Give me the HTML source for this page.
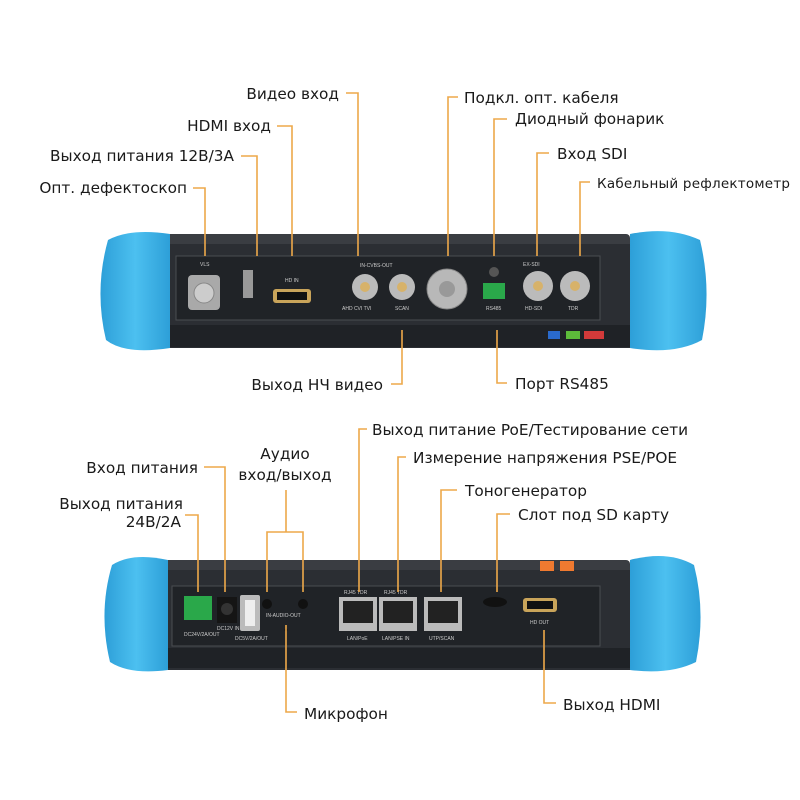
<!DOCTYPE html>
<html><head><meta charset="utf-8"><style>
html,body{margin:0;padding:0;background:#fff}
svg{display:block}
text{font-family:"DejaVu Sans","Liberation Sans",sans-serif;font-size:15.3px;fill:#1a1a1a}
.l{stroke:#eda84a;stroke-width:1.6;fill:none}
.s{font-size:5px;fill:#ccc;font-family:"Liberation Sans",sans-serif}
</style></head><body>
<svg width="800" height="800" viewBox="0 0 800 800">
<defs>
<linearGradient id="b" x1="0" y1="0" x2="1" y2="0"><stop offset="0" stop-color="#2d9fd8"/><stop offset=".5" stop-color="#4cc0f0"/><stop offset="1" stop-color="#2d9fd8"/></linearGradient>
</defs>
<rect x="160" y="234" width="470" height="16" rx="4" fill="#3a3d42"/>
<rect x="140" y="244" width="525" height="104" rx="8" fill="#2b2e33"/>
<rect x="140" y="325" width="525" height="22" rx="6" fill="#1f2226"/>
<rect x="176" y="256" width="424" height="64" fill="#202327" stroke="#4a4d52" stroke-width="1"/>
<path d="M170 234 Q130 228 108 240 Q94 290 106 340 Q125 355 170 348Z" fill="url(#b)"/>
<path d="M630 234 Q670 226 700 240 Q712 290 702 340 Q675 355 630 348Z" fill="url(#b)"/>
<rect x="548" y="331" width="12" height="8" fill="#2a6acb"/><rect x="566" y="331" width="14" height="8" fill="#5dbb3a"/><rect x="584" y="331" width="20" height="8" fill="#d23a3a"/>
<rect x="188" y="275" width="32" height="35" rx="4" fill="#a9a9a9"/><circle cx="204" cy="293" r="10" fill="#ccc" stroke="#888"/>
<rect x="243" y="270" width="10" height="28" fill="#999"/>
<rect x="273" y="289" width="38" height="14" rx="3" fill="#c9a45a"/><rect x="277" y="292" width="30" height="8" fill="#111"/>
<circle cx="365" cy="287" r="13" fill="#bbb"/><circle cx="365" cy="287" r="5" fill="#d7b26a"/>
<circle cx="402" cy="287" r="13" fill="#bbb"/><circle cx="402" cy="287" r="5" fill="#d7b26a"/>
<circle cx="447" cy="289" r="20" fill="#b8b8b8" stroke="#888"/><circle cx="447" cy="289" r="8" fill="#999"/>
<circle cx="494" cy="272" r="5" fill="#555"/>
<rect x="483" y="283" width="22" height="16" fill="#2aa84a"/>
<circle cx="538" cy="286" r="15" fill="#bbb"/><circle cx="538" cy="286" r="5" fill="#d7b26a"/>
<circle cx="575" cy="286" r="15" fill="#bbb"/><circle cx="575" cy="286" r="5" fill="#d7b26a"/>
<text class="s" x="200" y="266">VLS</text><text class="s" x="285" y="282">HD IN</text><text class="s" x="360" y="267">IN-CVBS-OUT</text>
<text class="s" x="342" y="310">AHD CVI TVI</text><text class="s" x="395" y="310">SCAN</text><text class="s" x="486" y="310">RS485</text>
<text class="s" x="523" y="266">EX-SDI</text><text class="s" x="525" y="310">HD-SDI</text><text class="s" x="568" y="310">TDR</text>
<rect x="160" y="560" width="470" height="16" rx="4" fill="#3a3d42"/>
<rect x="148" y="570" width="505" height="100" rx="8" fill="#2b2e33"/>
<rect x="148" y="648" width="505" height="20" rx="6" fill="#1f2226"/>
<rect x="172" y="586" width="428" height="60" fill="#202327" stroke="#4a4d52" stroke-width="1"/>
<rect x="540" y="561" width="14" height="10" fill="#f07a30"/><rect x="560" y="561" width="14" height="10" fill="#f07a30"/>
<path d="M168 560 Q132 552 112 565 Q98 612 110 662 Q130 675 168 670Z" fill="url(#b)"/>
<path d="M630 560 Q668 550 694 565 Q706 612 696 662 Q670 675 630 670Z" fill="url(#b)"/>
<rect x="184" y="596" width="28" height="24" fill="#2aa84a"/>
<rect x="217" y="597" width="20" height="26" fill="#151515"/><circle cx="227" cy="609" r="6" fill="#333"/>
<rect x="240" y="595" width="20" height="36" rx="2" fill="#bbb"/><rect x="245" y="600" width="10" height="26" fill="#eee"/>
<circle cx="267" cy="604" r="5" fill="#111"/><circle cx="303" cy="604" r="5" fill="#111"/>
<circle cx="286" cy="630" r="1.5" fill="#111"/>
<rect x="339" y="597" width="38" height="34" fill="#bbb"/><rect x="343" y="601" width="30" height="22" fill="#222"/>
<rect x="379" y="597" width="38" height="34" fill="#bbb"/><rect x="383" y="601" width="30" height="22" fill="#222"/>
<rect x="424" y="597" width="38" height="34" fill="#bbb"/><rect x="428" y="601" width="30" height="22" fill="#222"/>
<ellipse cx="495" cy="602" rx="12" ry="5" fill="#111"/>
<rect x="523" y="598" width="34" height="14" rx="3" fill="#c9a45a"/><rect x="527" y="601" width="26" height="8" fill="#111"/>
<text class="s" x="184" y="636">DC24V/2A/OUT</text><text class="s" x="217" y="630">DC12V IN</text><text class="s" x="235" y="640">DC5V/2A/OUT</text>
<text class="s" x="266" y="617">IN-AUDIO-OUT</text><text class="s" x="344" y="594">RJ45 TDR</text><text class="s" x="384" y="594">RJ45 TDR</text>
<text class="s" x="347" y="640">LAN/PoE</text><text class="s" x="382" y="640">LAN/PSE IN</text><text class="s" x="429" y="640">UTP/SCAN</text><text class="s" x="530" y="624">HD OUT</text>
<path class="l" d="M193 188H205V256"/>
<path class="l" d="M241 156H257V256"/>
<path class="l" d="M277 126H292V256"/>
<path class="l" d="M346 93H358V256"/>
<path class="l" d="M458 97H448V256"/>
<path class="l" d="M507 119H494V256"/>
<path class="l" d="M549 153H537V256"/>
<path class="l" d="M590 182H580V256"/>
<path class="l" d="M391 384H402V330"/>
<path class="l" d="M507 383H497V330"/>
<text x="187" y="193" text-anchor="end">Опт. дефектоскоп</text>
<text x="234" y="161" text-anchor="end">Выход питания 12В/3А</text>
<text x="271" y="131" text-anchor="end">HDMI вход</text>
<text x="339" y="99" text-anchor="end">Видео вход</text>
<text x="464" y="103">Подкл. опт. кабеля</text>
<text x="515" y="124">Диодный фонарик</text>
<text x="557" y="159">Вход SDI</text>
<text x="597" y="188" style="font-size:13.5px" textLength="193">Кабельный рефлектометр</text>
<text x="383" y="390" text-anchor="end">Выход НЧ видео</text>
<text x="515" y="389">Порт RS485</text>
<path class="l" d="M367 429H359V592"/>
<path class="l" d="M406 457H398V592"/>
<path class="l" d="M457 490H441V592"/>
<path class="l" d="M510 514H497V592"/>
<path class="l" d="M204 467H225V592"/>
<path class="l" d="M185 515H198V592"/>
<path class="l" d="M286 490V532M267 592V532H303V592"/>
<path class="l" d="M286 625V712H297"/>
<path class="l" d="M544 630V703H556"/>
<text x="372" y="435">Выход питание PoE/Тестирование сети</text>
<text x="413" y="463">Измерение напряжения PSE/POE</text>
<text x="465" y="496">Тоногенератор</text>
<text x="518" y="520">Слот под SD карту</text>
<text x="198" y="473" text-anchor="end">Вход питания</text>
<text x="285" y="459" text-anchor="middle">Аудио</text>
<text x="285" y="480" text-anchor="middle">вход/выход</text>
<text x="183" y="509" text-anchor="end">Выход питания</text>
<text x="181" y="527" text-anchor="end">24В/2А</text>
<text x="304" y="719">Микрофон</text>
<text x="563" y="710">Выход HDMI</text>
</svg>
</body></html>
